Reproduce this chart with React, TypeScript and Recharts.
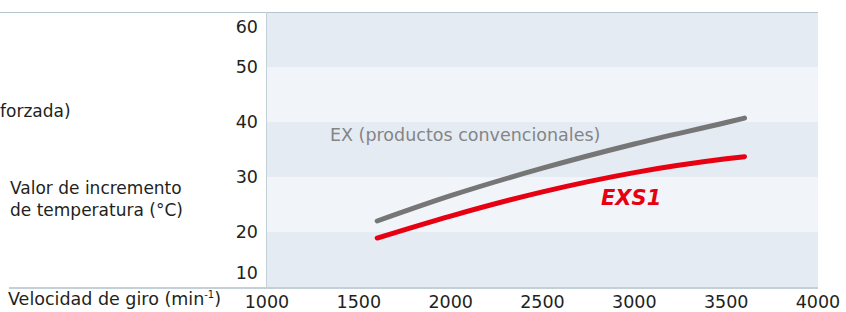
import { CartesianGrid, Line, LineChart, XAxis, YAxis } from "recharts";

const speeds = [1600, 2000, 2500, 3000, 3500, 3600];
const exValues = [22.0, 26.6, 31.6, 36.0, 39.9, 40.7];
const exs1Values = [18.9, 22.9, 27.3, 30.8, 33.3, 33.7];
const xTicks = [1000, 1500, 2000, 2500, 3000, 3500, 4000];
const yTicks = [10, 20, 30, 40, 50, 60];

const data = speeds.map((rpm, i) => ({ rpm, ex: exValues[i], exs1: exs1Values[i] }));

const font = "'DejaVu Sans', sans-serif";
const ink = "#231f20";

function YTick({ x, y, payload }: any) {
  let dy = 0;
  if (payload.value === 60) dy = 15;
  if (payload.value === 10) dy = -14;
  return (
    <text x={x} y={y + dy} textAnchor="end" dominantBaseline="central" fill={ink} fontSize={17.5} fontFamily={font}>
      {payload.value}
    </text>
  );
}

function XTick({ x, y, payload }: any) {
  return (
    <text x={x} y={y + 7} textAnchor="middle" dominantBaseline="central" fill={ink} fontSize={17.5} fontFamily={font}>
      {payload.value}
    </text>
  );
}

export default function App() {
  return (
    <div style={{ position: "absolute", left: 0, top: 0, width: 846, height: 312, background: "#fff", fontFamily: font, color: ink }}>
      <LineChart width={846} height={312} data={data} margin={{ top: 12, right: 28, bottom: 0, left: 207 }}>
        <CartesianGrid
          vertical={false}
          stroke="none"
          horizontalFill={["#e4ebf3", "#f1f5f9"]}
          fillOpacity={1}
        />
        <XAxis
          dataKey="rpm"
          type="number"
          domain={[1000, 4000]}
          ticks={xTicks}
          height={25}
          axisLine={false}
          tickLine={false}
          tick={<XTick />}
          interval={0}
        />
        <YAxis
          type="number"
          domain={[10, 60]}
          ticks={yTicks}
          width={60}
          axisLine={false}
          tickLine={false}
          tickSize={0}
          tickMargin={9}
          tick={<YTick />}
          interval={0}
        />
        <Line type="monotone" dataKey="ex" stroke="#767676" strokeWidth={5} dot={false} strokeLinecap="round" isAnimationActive={false} />
        <Line type="monotone" dataKey="exs1" stroke="#e60012" strokeWidth={5} dot={false} strokeLinecap="round" isAnimationActive={false} />
      </LineChart>

      {/* frame lines */}
      <div style={{ position: "absolute", left: 0, top: 12, width: 818, height: 1, background: "#b4c6ce" }} />
      <div style={{ position: "absolute", left: 9, top: 287, width: 809, height: 2, background: "#c4d0d8" }} />
      <div style={{ position: "absolute", left: 266, top: 12, width: 1, height: 276, background: "#c4d0d8" }} />

      {/* outside labels */}
      <div style={{ position: "absolute", left: 0, top: 101, fontSize: 17, whiteSpace: "nowrap" }}>forzada)</div>
      <div style={{ position: "absolute", left: 10, top: 177, fontSize: 17, lineHeight: "22px", whiteSpace: "nowrap" }}>
        Valor de incremento
        <br />
        de temperatura (°C)
      </div>
      <div style={{ position: "absolute", left: 8, top: 289, fontSize: 17.5, whiteSpace: "nowrap" }}>
        Velocidad de giro (min<sup style={{ fontSize: 10 }}>-1</sup>)
      </div>

      {/* series labels */}
      <div style={{ position: "absolute", left: 330, top: 125, fontSize: 17.5, color: "#858585", whiteSpace: "nowrap" }}>
        EX (productos convencionales)
      </div>
      <div style={{ position: "absolute", left: 601, top: 186, fontSize: 21, fontWeight: 700, fontStyle: "italic", color: "#e60012", whiteSpace: "nowrap" }}>
        EXS1
      </div>
    </div>
  );
}
